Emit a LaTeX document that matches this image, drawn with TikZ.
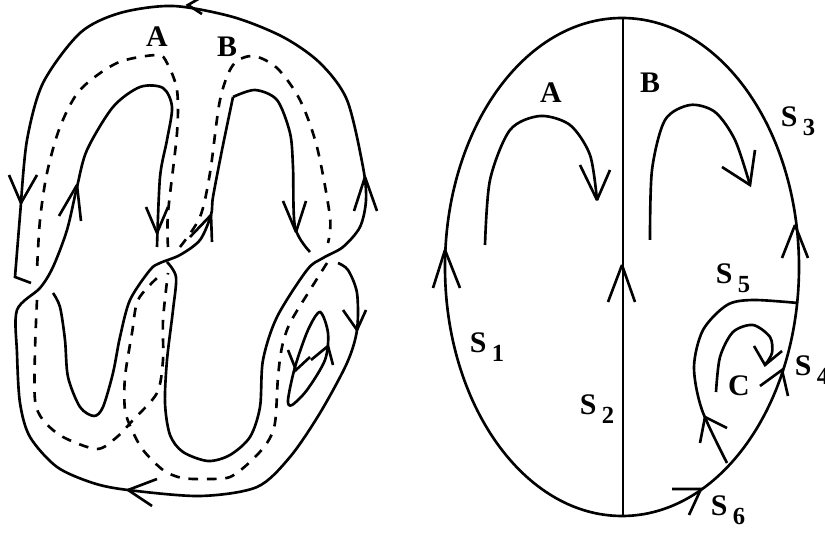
\documentclass[tikz,border=0pt]{standalone}
\usepackage{fontspec}
\setmainfont{Liberation Serif}
\newcommand{\slabel}[1]{S\kern3pt\lower5pt\hbox{\fontsize{14pt}{14pt}\selectfont #1}}
\begin{document}
\begin{tikzpicture}[
        x=0.02cm, y=-0.02cm,
        curve/.style={
            line width=1.5pt,
            draw=black
        },
        dashcurve/.style={
            curve,
            dash pattern=on 5.5pt off 5pt
        },
        barb/.style={
            curve,
            miter limit=2
        },
        lbl/.style={
            font=\fontsize{17pt}{17pt}\selectfont\bfseries,
            inner sep=0pt
        }
    ]
    \useasboundingbox (0,0) rectangle (825,536);

    % left figure, solid
    \draw[curve] (31,283) -- (15,277) -- (21,203) plot[smooth] coordinates {(21,203) (27,140) (43,83) (80,33) (120,13) (173,6) (233,17) (283,37) (320,63) (347,100) (363,167) (366,200) (360,227) (343,247) (323,258) (307,270) (277,317) (263,360) (260,407) (250,437) (230,455) (208,461) (183,452) (170,435) (165,403) (167,360) (173,310) (176,277) (167,262)};
    \draw[curve] plot[smooth] coordinates {(157,247) (160,177) (167,140) (172,107) (163,88) (140,87) (113,107) (87,150) (77,187) (67,230) (53,267) (40,288) (17,310) (17,353) (20,403) (30,437) (57,467) (93,483) (128,490) (200,496) (257,487) (290,457) (320,413) (347,363) (357,330) (357,293) (348,270) (338,263)};
    \draw[curve] plot[smooth] coordinates {(53,293) (60,307) (65,340) (68,377) (80,407) (94,416) (103,407) (113,373) (120,337) (130,300) (150,270) (160,263) (180,255) (200,240) (211,215) (213,197) (222,150) (233,97)};
    \draw[curve] plot[smooth] coordinates {(233,97) (255,90) (277,100) (290,133) (293,167) (295,227) (310,252)};
    \draw[curve] plot[smooth cycle] coordinates {(320,312) (328,333) (325,360) (307,390) (292,405) (288,400) (295,367) (308,330)};

    % left figure, dashed
    \draw[dashcurve] plot[smooth] coordinates {(168,247) (168,213) (177,133) (177,90) (167,63) (157,55) (117,63) (80,90) (60,127) (47,173) (40,220) (37,270)};
    \draw[dashcurve] plot[smooth] coordinates {(37,300) (35,350) (35,400) (43,420) (63,437) (97,449) (117,437) (133,420) (157,393) (163,360) (163,320) (168,273)};
    \draw[dashcurve] plot[smooth] coordinates {(180,247) (200,217) (210,173) (220,100) (233,65) (253,56) (277,68) (300,100) (317,147) (330,217) (328,243)};
    \draw[dashcurve] plot[smooth] coordinates {(327,263) (310,290) (290,323) (282,347) (278,377) (275,423) (267,443) (250,462) (230,477) (207,479) (182,478) (163,470) (143,450) (132,430) (125,410) (125,377) (132,333) (138,300) (157,278)};

    % right figure
    \draw[curve] (622,267) ellipse (177 and 249);
    \coordinate (top) at (623,18);
    \coordinate (bottom) at (623,516);
    \draw[curve] (top) -- (bottom);
    \draw[curve] plot[smooth] coordinates {(798,303) (753,300) (727,305) (703,330) (694,367) (702,410) (727,463)};
    \draw[curve] plot[smooth] coordinates {(716,392) (720,357) (733,332) (753,325) (770,337) (772,353) (765,365)};
    \draw[curve] plot[smooth] coordinates {(485,245) (490,180) (510,130) (540,116) (570,125) (590,155) (597,200)};
    \draw[curve] plot[smooth] coordinates {(650,240) (652,170) (665,120) (690,105) (715,112) (735,140) (750,185)};

    % arrowheads: barb, tip, barb
    \foreach \a/\t/\b in {
        {202,14}/{188,5}/{207,-6},
        {9,175}/{21,203}/{37,175},
        {59,216}/{77,185}/{81,221},
        {146,207}/{157,233}/{168,207},
        {190,237}/{211,215}/{212,242},
        {283,201}/{296,232}/{306,201},
        {354,211}/{365,177}/{377,211},
        {343,310}/{357,330}/{366,310},
        {157,479}/{128,490}/{152,506},
        {288,350}/{296,370}/{310,357},
        {311,360}/{328,346}/{333,365},
        {433,288}/{445,250}/{460,288},
        {608,302}/{622,265}/{635,302},
        {782,258}/{795,225}/{808,258},
        {760,386}/{782,370}/{788,396},
        {672,489}/{701,489}/{689,515},
        {727,428}/{705,417}/{700,443},
        {754,346}/{765,365}/{782,351},
        {580,165}/{597,200}/{610,170},
        {722,167}/{750,185}/{755,150}} {
        \draw[barb] (\a) -- (\t) -- (\b);
    }

    % labels
    \node[lbl] (a left) at (157,37) {A};
    \node[lbl] (b left) at (227,47) {B};
    \node[lbl] (a right) at (551,93) {A};
    \node[lbl] (b right) at (650,83) {B};
    \node[lbl] (c label) at (739,386) {C};
    \node[lbl] (s1) at (487,347) {\slabel{1}};
    \node[lbl] (s2) at (597,409) {\slabel{2}};
    \node[lbl] (s3) at (798,121) {\slabel{3}};
    \node[lbl] (s4) at (812,370) {\slabel{4}};
    \node[lbl] (s5) at (733,278) {\slabel{5}};
    \node[lbl] (s6) at (728,510) {\slabel{6}};

\end{tikzpicture}
\end{document}
